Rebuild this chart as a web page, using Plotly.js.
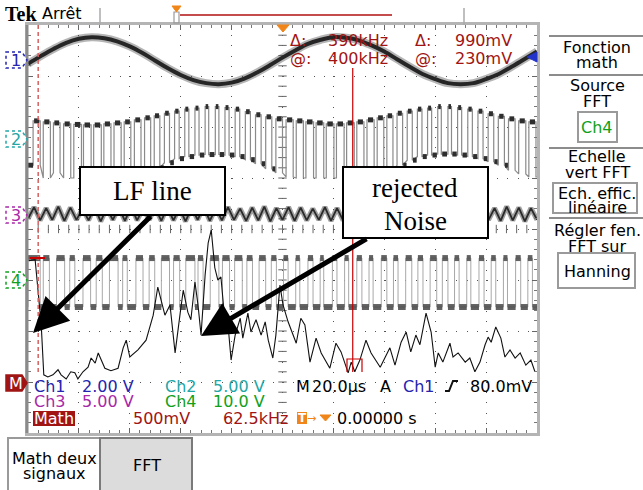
<!DOCTYPE html>
<html><head><meta charset="utf-8">
<script src="https://cdn.plot.ly/plotly-3.0.1.min.js"></script>
<style>html,body{margin:0;padding:0;background:#fff;}#chart{width:643px;height:490px;}</style>
</head><body><div id="chart"></div>
<script>
// ===== DATA (screen divisions: x 0..10 time/freq, y -4..4) =====
// Ch1 : sine (audio input)
const ch1X = [0,0.25,0.5,0.75,1,1.25,1.5,1.75,2,2.25,2.5,2.75,3,3.25,3.5,3.75,4,4.25,4.5,4.75,5,5.25,5.5,5.75,6,6.25,6.5,6.75,7,7.25,7.5,7.75,8,8.25,8.5,8.75,9,9.25,9.5,9.75,10];
const ch1Y = [3.24,3.39,3.53,3.65,3.73,3.76,3.74,3.68,3.58,3.45,3.30,3.15,3.02,2.92,2.86,2.84,2.87,2.95,3.07,3.21,3.36,3.50,3.63,3.71,3.76,3.75,3.70,3.60,3.48,3.33,3.18,3.04,2.94,2.86,2.84,2.86,2.94,3.04,3.18,3.33,3.48];
// Ch2 : PWM output, per pulse
const ch2Rise = [0.10,0.30,0.50,0.70,0.90,1.09,1.29,1.49,1.69,1.89,2.09,2.29,2.48,2.68,2.88,3.08,3.28,3.48,3.68,3.87,4.07,4.27,4.47,4.67,4.87,5.07,5.27,5.46,5.66,5.86,6.06,6.26,6.46,6.66,6.86,7.05,7.25,7.45,7.65,7.85,8.05,8.25,8.44,8.64,8.84,9.04,9.24,9.44,9.64,9.84];
const ch2HighW = [0.14,0.14,0.13,0.14,0.15,0.15,0.15,0.14,0.14,0.13,0.13,0.12,0.11,0.10,0.09,0.08,0.08,0.07,0.07,0.08,0.09,0.10,0.11,0.12,0.13,0.14,0.14,0.15,0.15,0.15,0.15,0.15,0.14,0.14,0.13,0.12,0.11,0.10,0.09,0.08,0.07,0.07,0.08,0.09,0.10,0.11,0.12,0.13,0.14,0.14];
const ch2Hi = [2.12,2.10,2.08,2.06,2.05,2.04,2.04,2.06,2.08,2.10,2.14,2.18,2.22,2.27,2.31,2.35,2.37,2.40,2.40,2.38,2.35,2.30,2.24,2.20,2.16,2.14,2.12,2.10,2.08,2.06,2.06,2.08,2.10,2.14,2.18,2.22,2.27,2.31,2.35,2.37,2.40,2.40,2.38,2.35,2.31,2.26,2.21,2.16,2.12,2.10];
const ch2Lo = [1.25,1.00,1.10,1.00,1.00,1.00,1.00,1.00,1.00,1.02,1.05,1.10,1.20,1.30,1.38,1.42,1.45,1.46,1.46,1.45,1.42,1.36,1.28,1.18,1.10,1.02,1.00,1.00,1.00,1.00,1.00,1.00,1.00,1.02,1.08,1.15,1.25,1.35,1.42,1.45,1.47,1.47,1.45,1.42,1.38,1.32,1.25,1.15,1.08,1.02];
// Ch3 : triangle carrier, successive vertices
const ch3Tips = [0.20,0.43,0.17,0.41,0.18,0.44,0.16,0.42,0.18,0.40,
 0.17,0.43,0.15,0.41,0.18,0.42,0.16,0.44,0.17,0.40,
 0.18,0.42,0.16,0.43,0.17,0.41,0.15,0.42,0.18,0.44,
 0.16,0.41,0.17,0.43,0.18,0.40,0.16,0.42,0.17,0.44,
 0.15,0.41,0.18,0.43,0.16,0.42,0.17,0.40,0.18,0.43,
 0.16,0.41,0.17,0.44,0.15,0.42,0.18,0.41,0.16,0.43,
 0.17,0.40,0.18,0.42,0.16,0.44,0.17,0.41,0.15,0.43,
 0.18,0.42,0.16,0.40,0.17,0.43,0.18,0.41,0.16,0.44,
 0.17,0.42,0.15,0.41,0.18];
// Ch4 : digital stream
const ch4Rise = [0.00,0.30,0.56,0.82,1.08,1.34,1.60,1.86,2.12,2.38,2.62,2.86,3.10,3.34,3.58,3.82,4.06,4.30,4.54,4.78,5.02,5.26,5.50,5.74,5.98,6.22,6.46,6.70,6.94,7.18,7.42,7.66,7.90,8.14,8.38,8.62,8.86,9.10,9.34,9.58,9.82];
const ch4HighW = [0.24,0.12,0.16,0.10,0.15,0.12,0.17,0.09,0.14,0.11,0.16,0.12,0.18,0.10,0.17,0.14,0.15,0.11,0.13,0.10,0.09,0.08,0.10,0.07,0.09,0.08,0.10,0.08,0.11,0.09,0.12,0.10,0.13,0.11,0.09,0.08,0.10,0.09,0.08,0.10,0.09];
const ch4Hi = -0.57, ch4Lo = -1.53;
// Math : FFT of Ch4
const fftX = [0.02,0.14,0.26,0.31,0.39,0.49,0.59,0.65,0.75,0.84,
 0.92,0.98,1.08,1.18,1.24,1.32,1.38,1.51,1.63,1.77,
 1.87,1.93,2.00,2.16,2.32,2.46,2.55,2.61,2.69,2.79,
 2.89,2.99,3.05,3.14,3.20,3.28,3.34,3.40,3.48,3.54,
 3.60,3.67,3.73,3.79,3.87,3.93,3.99,4.07,4.17,4.22,
 4.32,4.38,4.48,4.58,4.66,4.72,4.81,4.87,4.95,5.01,
 5.11,5.27,5.36,5.44,5.54,5.66,5.76,5.93,6.05,6.15,
 6.29,6.35,6.42,6.52,6.64,6.74,6.92,7.01,7.11,7.21,
 7.33,7.43,7.52,7.62,7.70,7.82,7.92,8.00,8.06,8.15,
 8.29,8.35,8.45,8.59,8.68,8.78,8.88,8.98,9.04,9.10,
 9.19,9.29,9.37,9.47,9.57,9.67,9.78,9.88,9.96];
const fftY = [-0.62,-0.60,-1.88,-2.86,-2.90,-2.86,-2.76,-2.86,-2.94,-2.80,
 -2.82,-2.94,-2.80,-2.71,-2.53,-2.63,-2.43,-2.73,-2.78,-2.73,
 -2.33,-2.18,-2.51,-2.37,-2.18,-1.69,-1.14,-1.39,-1.69,-1.49,
 -2.43,-1.65,-1.20,-1.63,-1.78,-1.04,-1.49,-2.08,-0.90,-0.27,
 -0.02,-0.76,-1.00,-0.94,-1.82,-1.88,-2.57,-2.08,-1.75,-2.14,
 -1.65,-2.02,-1.78,-2.08,-1.82,-2.18,-2.53,-2.08,-1.10,-1.49,
 -1.82,-2.24,-1.75,-1.88,-2.61,-2.14,-2.43,-2.73,-2.24,-2.41,
 -2.82,-2.61,-2.80,-2.57,-2.18,-2.43,-2.71,-2.53,-2.33,-2.67,
 -2.22,-2.02,-2.41,-2.08,-2.27,-1.65,-2.02,-2.71,-2.43,-2.61,
 -2.24,-2.51,-2.43,-2.61,-2.53,-2.80,-2.61,-2.27,-2.12,-2.22,
 -1.92,-2.14,-2.51,-2.37,-2.53,-2.43,-2.67,-2.57,-2.80];
// Cursors (divisions)
const cursorA = 0.2, cursorB = 6.38;

// ===== helpers =====
const L=28,R=537,T=25,B=433;
const px = x => (x-L)/(R-L);
const py = y => (B-y)/(B-T);
const FONT = 'DejaVu Sans, sans-serif';
const C = {ch1:'#2424b0', ch2:'#22a6a6', ch3:'#a828a8', ch4:'#12a020', math:'#a01414', cur:'#c80000', org:'#f0861a'};

function stepPaths(rise, width, hi, lo, blob){
  const H = i => Array.isArray(hi)?hi[i]:hi, Lo = i => Array.isArray(lo)?lo[i]:lo;
  const ex=[], ey=[], qx=[], qy=[];
  if (rise[0] > 0){ ex.push(0); ey.push(Lo(0)); qx.push(0, rise[0], null); qy.push(Lo(0), Lo(0), null); }
  for (let i=0;i<rise.length;i++){
    const r=rise[i], f=r+width[i], n = i+1<rise.length ? rise[i+1] : 10;
    ex.push(r, r, f, f); ey.push(Lo(i), H(i), H(i), Lo(i));
    if (blob){
      const m=(r+f)/2, h=Math.min(width[i]*0.36, 0.07);
      qx.push(m-h, m+h, null); qy.push(H(i), H(i), null);
      if (n-f > 0.08){ const m2=(f+n)/2, h2=Math.min((n-f)*0.36,0.07); qx.push(m2-h2, m2+h2, null); qy.push(Lo(i), Lo(i), null); }
    } else {
      qx.push(r, f, null, f, n, null); qy.push(H(i), H(i), null, Lo(i), Lo(i), null);
    }
  }
  ex.push(10); ey.push(Lo(rise.length-1));
  return {ex, ey, qx, qy};
}
const s2 = stepPaths(ch2Rise, ch2HighW, ch2Hi, ch2Lo, true);
const s4 = stepPaths(ch4Rise, ch4HighW, ch4Hi, ch4Lo, false);
const ch3X = ch3Tips.map((v,i)=> i*10/(ch3Tips.length-1));

// center graticule ticks
const cxX=[], cxY=[], cyX=[], cyY=[];
for (let k=1;k<50;k++){ cxX.push(k*0.2); cxY.push(0); }
for (let k=-19;k<20;k++){ cyX.push(5); cyY.push(k*0.2); }

const line = (c,w,dash) => ({color:c, width:w, dash:dash||'solid'});
const traces = [
  {x:cxX, y:cxY, mode:'markers', marker:{symbol:'line-ns', size:6, line:{color:'#666', width:1}}},
  {x:cyX, y:cyY, mode:'markers', marker:{symbol:'line-ew', size:6, line:{color:'#666', width:1}}},
  {x:ch1X, y:ch1Y, mode:'lines', line:{color:'rgba(70,70,70,0.4)', width:8, shape:'spline'}},
  {x:ch1X, y:ch1Y, mode:'lines', line:{color:'#262626', width:4, shape:'spline'}},
  {x:s2.ex, y:s2.ey, mode:'lines', line:line('#8a8a8a',1.2)},
  {x:s2.qx, y:s2.qy, mode:'lines', line:line('#2e2e2e',5), connectgaps:false},
  {x:ch3X, y:ch3Tips, mode:'lines', line:{color:'rgba(70,70,70,0.5)', width:5}},
  {x:ch3X, y:ch3Tips, mode:'lines', line:line('#2a2a2a',1.8)},
  {x:s4.ex, y:s4.ey, mode:'lines', line:line('#a8a8a8',1)},
  {x:s4.qx, y:s4.qy, mode:'lines', line:line('rgba(70,70,70,0.85)',6), connectgaps:false},
  {x:fftX, y:fftY, mode:'lines', line:line('#111',1.1)}
];
traces.forEach(t=>{ t.showlegend=false; t.hoverinfo='skip'; t.cliponaxis=true; });

// ===== shapes =====
const shapes = [];
function lineS(x0,y0,x1,y1,color,width,dash){ shapes.push({type:'line', xref:'paper', yref:'paper', x0:px(x0), y0:py(y0), x1:px(x1), y1:py(y1), line:{color, width, dash:dash||'solid'}}); }
function rectS(x0,y0,x1,y1,color,width,fill){ shapes.push({type:'rect', xref:'paper', yref:'paper', x0:px(x0), y0:py(y0), x1:px(x1), y1:py(y1), line:{color, width}, fillcolor:fill||'rgba(0,0,0,0)'}); }
function pathS(pts,color,width,fill,close,dash){
  let d = pts.map((p,i)=>(i?'L':'M')+px(p[0]).toFixed(5)+','+py(p[1]).toFixed(5)).join(' ');
  if (close) d += ' Z';
  shapes.push({type:'path', xref:'paper', yref:'paper', path:d, line:{color, width, dash:dash||'solid'}, fillcolor:fill||'rgba(0,0,0,0)'});
}
// frame accents
lineS(27,25,27,433,'#8a8a8a',3);
// top bar
lineS(100,8,100,25,'#aaa',1.5);
lineS(464,8,464,25,'#aaa',1.5);
lineS(180,15,392,15,'#b01010',1.5);
rectS(174,12,179,23,'#999',1.2);
pathS([[172,6],[181,6],[176.5,12]], C.org, 1, C.org, true);
// trigger position & level markers
pathS([[277,25],[289,25],[283,32]], C.org, 1, C.org, true);
pathS([[527,57],[537,52],[537,62]], '#2233cc', 1, '#2233cc', true);
// cursors
shapes.push({type:'line', xref:'x', yref:'paper', x0:cursorA, x1:cursorA, y0:py(372), y1:1, line:{color:'#d86060', width:1.5, dash:'4px,3px'}});
shapes.push({type:'line', xref:'x', yref:'paper', x0:cursorB, x1:cursorB, y0:py(372), y1:py(68), line:{color:C.cur, width:1.2}});
pathS([[347,372],[347,359],[362,359],[362,372]], C.cur, 1.2);
lineS(30,258,45,258,C.cur,2);
// channel markers
function marker(c, yc, filled){
  pathS([[6,yc-8],[22,yc-8],[27,yc],[22,yc+8],[6,yc+8]], c, 1.5, filled?c:'#ffffff', true, filled?'solid':'dot');
}
marker(C.ch1, 60); marker(C.ch2, 139); marker(C.ch3, 215); marker(C.ch4, 280); marker(C.math, 383, true);
// status icons
rectS(33,411,75,426,C.math,0,C.math);
rectS(297,412,307,424,C.org,0,C.org);
pathS([[320,415],[331,415],[325.5,421]], C.org, 1, C.org, true);
pathS([[445,391],[449,391],[453,381],[458,381]], '#111', 2);
// annotation boxes
rectS(80,167,225,215,'#000',2,'#fff');
rectS(343,167,488,238,'#000',2,'#fff');
// right menu
[36,75,148,218].forEach(y=>lineS(549,y,643,y,'#8c8c8c',2));
rectS(578,112,617,142,'#9a9a9a',2,'#fff');
rectS(553,183,637,213,'#9a9a9a',2,'#fff');
rectS(558,253,635,288,'#9a9a9a',2,'#fff');
// bottom buttons
rectS(8,438,100,493,'#9a9a9a',2,'#fff');
rectS(100,438,192,493,'#7a7a7a',2,'#dcdcdc');

// ===== annotations =====
const ann = [];
function txt(s,x,y,color,o){
  o=o||{};
  ann.push({xref:'paper', yref:'paper', x:px(x), y:py(y), text:s, showarrow:false,
    xanchor:o.anchor||'left', yanchor:'middle', borderpad:0,
    font:{family:o.family||FONT, size:o.size||16, color:color||'#000', weight:o.weight||'normal'}});
}
// top
txt('Tek',4,14,'#000',{family:'Liberation Serif, serif', size:20, weight:'bold'});
txt('Arrêt',41,13,'#000');
// cursor readouts
txt('Δ:',289,41,C.math); txt('390kHz',327,41,C.math); txt('Δ:',414,41,C.math); txt('990mV',454,41,C.math);
txt('@:',289,58,C.math); txt('400kHz',327,58,C.math); txt('@:',414,58,C.math); txt('230mV',454,58,C.math);
// channel marker labels
txt('1',16,60,C.ch1,{anchor:'center'}); txt('2',16,139,C.ch2,{anchor:'center'});
txt('3',16,215,C.ch3,{anchor:'center'}); txt('4',16,280,C.ch4,{anchor:'center'});
txt('M',16,383,'#fff',{anchor:'center'});
// status rows
txt('Ch1',33,386,C.ch1); txt('2.00 V',81,386,C.ch1); txt('Ch2',164,386,C.ch2); txt('5.00 V',212,386,C.ch2);
txt('M',295,386); txt('20.0µs',311,386); txt('A',379,386); txt('Ch1',402,386,C.ch1); txt('80.0mV',469,386);
txt('Ch3',33,401,C.ch3); txt('5.00 V',81,401,C.ch3); txt('Ch4',164,401,C.ch4); txt('10.0 V',212,401,C.ch4);
txt('Math',33,418,'#fff'); txt('500mV',132,418,C.math); txt('62.5kHz',222,418,C.math);
txt('T',302,418,'#fff',{anchor:'center', size:12, weight:'bold'}); txt('→',306,418,C.org,{size:11});
txt('0.00000 s',336,418);
// right menu
const mx=597;
[['Fonction',47],['math',62],['Source',85],['FFT',101],['Echelle',157],['vert FFT',172],['Ech. effic.',193],['linéaire',207],['Régler fen.',230],['FFT sur',246],['Hanning',271]]
  .forEach(([s,y])=>txt(s,mx,y,'#000',{anchor:'center'}));
txt('Ch4',mx,127,C.ch4,{anchor:'center'});
// bottom buttons
txt('Math deux',54,458,'#000',{anchor:'center'}); txt('signaux',54,473,'#000',{anchor:'center'});
txt('FFT',147,465,'#000',{anchor:'center'});
// callouts
txt('LF line',152,191,'#000',{anchor:'center', family:'Liberation Serif, serif', size:27});
txt('rejected',415,188,'#000',{anchor:'center', family:'Liberation Serif, serif', size:27});
txt('Noise',415,221,'#000',{anchor:'center', family:'Liberation Serif, serif', size:27});
function arrow(tx,ty,fx,fy){
  ann.push({xref:'paper', yref:'paper', x:px(tx), y:py(ty), ax:fx-tx, ay:fy-ty, axref:'pixel', ayref:'pixel',
    text:'', showarrow:true, arrowhead:2, arrowsize:1.4, arrowwidth:5, arrowcolor:'#000', standoff:0, startstandoff:0});
}
arrow(33,333,152,215);
arrow(201,336,368,238);

const axisBase = {showticklabels:false, zeroline:false, showline:true, linecolor:'#b4b4b4', linewidth:3, mirror:'ticks',
  ticks:'inside', ticklen:5, tickcolor:'#666', tickwidth:1, showgrid:true, gridcolor:'#555', gridwidth:1, griddash:'1px,9.2px',
  fixedrange:true, tick0:0, dtick:1, minor:{dtick:0.2, ticks:'inside', ticklen:3, tickcolor:'#777', showgrid:false}};
const layout = {
  width:643, height:490, margin:{l:L, r:643-R, t:T, b:490-B, pad:0},
  paper_bgcolor:'#fff', plot_bgcolor:'#fff', showlegend:false,
  xaxis:Object.assign({}, axisBase, {range:[0,10]}),
  yaxis:Object.assign({}, axisBase, {range:[-4,4]}),
  shapes, annotations:ann
};
Plotly.newPlot('chart', traces, layout, {displayModeBar:false, staticPlot:true});
</script></body></html>
